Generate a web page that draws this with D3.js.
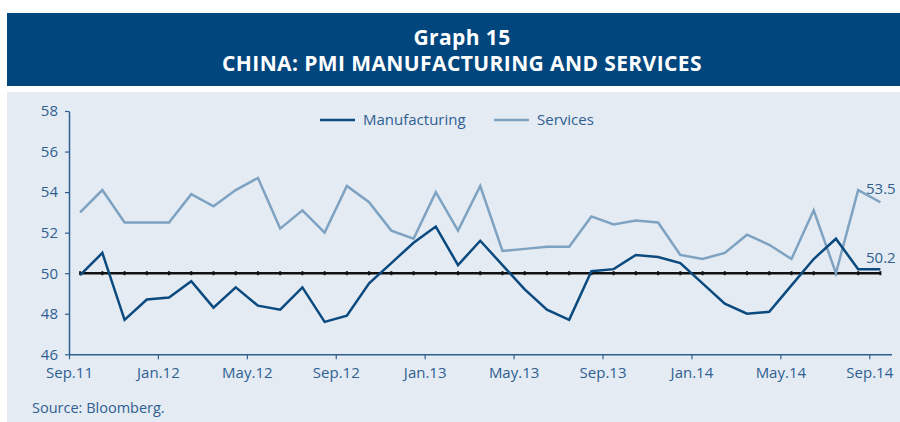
<!DOCTYPE html>
<html>
<head>
<meta charset="utf-8">
<script src="https://cdn.jsdelivr.net/npm/d3@7"></script>
<style>
  html, body { margin: 0; padding: 0; background: #ffffff; }
  svg { display: block; }
  text { font-family: "Open Sans", "DejaVu Sans", sans-serif; }
</style>
</head>
<body>
<svg id="chart" width="900" height="422"></svg>
<script>
// ---- Data ----
const months = [
  "Sep.11","Oct.11","Nov.11","Dec.11","Jan.12","Feb.12","Mar.12","Apr.12","May.12","Jun.12","Jul.12","Aug.12",
  "Sep.12","Oct.12","Nov.12","Dec.12","Jan.13","Feb.13","Mar.13","Apr.13","May.13","Jun.13","Jul.13","Aug.13",
  "Sep.13","Oct.13","Nov.13","Dec.13","Jan.14","Feb.14","Mar.14","Apr.14","May.14","Jun.14","Jul.14","Aug.14","Sep.14"
];
const manufacturing = [
  49.9, 51.0, 47.7, 48.7, 48.8, 49.6, 48.3, 49.3, 48.4, 48.2, 49.3, 47.6,
  47.9, 49.5, 50.5, 51.5, 52.3, 50.4, 51.6, 50.4, 49.2, 48.2, 47.7, 50.1,
  50.2, 50.9, 50.8, 50.5, 49.5, 48.5, 48.0, 48.1, 49.4, 50.7, 51.7, 50.2, 50.2
];
const services = [
  53.0, 54.1, 52.5, 52.5, 52.5, 53.9, 53.3, 54.1, 54.7, 52.2, 53.1, 52.0,
  54.3, 53.5, 52.1, 51.7, 54.0, 52.1, 54.3, 51.1, 51.2, 51.3, 51.3, 52.8,
  52.4, 52.6, 52.5, 50.9, 50.7, 51.0, 51.9, 51.4, 50.7, 53.1, 50.0, 54.1, 53.5
];
const threshold = 50;
const yTicks = [46, 48, 50, 52, 54, 56, 58];
const xTickLabels = ["Sep.11","Jan.12","May.12","Sep.12","Jan.13","May.13","Sep.13","Jan.14","May.14","Sep.14"];
const seriesNames = ["Manufacturing", "Services"];
const titleLines = ["Graph 15", "CHINA: PMI MANUFACTURING AND SERVICES"];
const sourceText = "Source: Bloomberg.";

// ---- Styles ----
const C = {
  banner: "#02467e",
  panel: "#e4ebf3",
  manuf: "#0b4a7f",
  serv: "#7ea2c2",
  axis: "#2f5f91",
  text: "#2f5f91"
};

const svg = d3.select("#chart");

// Banner
svg.append("rect").attr("x", 7).attr("y", 13).attr("width", 893).attr("height", 73).attr("fill", C.banner);
svg.append("text").attr("x", 462).attr("y", 45).attr("text-anchor", "middle")
  .attr("fill", "#fff").attr("font-weight", 700).attr("font-size", 21)
  .attr("letter-spacing", 0.4).text(titleLines[0]);
svg.append("text").attr("x", 462).attr("y", 71).attr("text-anchor", "middle")
  .attr("fill", "#fff").attr("font-weight", 700).attr("font-size", 21)
  .attr("letter-spacing", 0.4).text(titleLines[1]);

// Panel
svg.append("rect").attr("x", 7).attr("y", 92).attr("width", 893).attr("height", 330).attr("fill", C.panel);

// Scales
const x = d3.scaleLinear().domain([0, months.length]).range([69, 891.5]);
const y = d3.scaleLinear().domain([46, 58]).range([354.3, 111]);
const px = i => x(i + 0.5);

// Y axis
const yAxis = svg.append("g").attr("transform", "translate(69,0)")
  .call(d3.axisLeft(y).tickValues(yTicks).tickSize(4).tickSizeOuter(0).tickPadding(7).tickFormat(d3.format("d")));
yAxis.select(".domain").attr("stroke", C.axis).attr("stroke-width", 1.5);
yAxis.selectAll(".tick line").attr("stroke", C.axis).attr("stroke-width", 1.2);
yAxis.selectAll(".tick text").attr("fill", C.text).attr("font-size", 15)
  .attr("font-family", "'Open Sans', sans-serif");

// X axis
const tickIdx = xTickLabels.map(l => months.indexOf(l));
const xAxis = svg.append("g").attr("transform", "translate(0,354.3)")
  .call(d3.axisBottom(x).tickValues(tickIdx).tickSize(5).tickSizeOuter(0).tickPadding(8)
    .tickFormat(i => months[i]));
xAxis.select(".domain").attr("stroke", C.axis).attr("stroke-width", 1.5);
xAxis.selectAll(".tick line").attr("stroke", C.axis).attr("stroke-width", 1.2);
xAxis.selectAll(".tick text").attr("fill", C.text).attr("font-size", 15)
  .attr("font-family", "'Open Sans', sans-serif");

// Threshold line with markers
const thrData = months.map((m, i) => ({ i, v: threshold }));
svg.append("path").datum(thrData)
  .attr("fill", "none").attr("stroke", "#111").attr("stroke-width", 2.5)
  .attr("d", d3.line().x(d => px(d.i)).y(d => y(d.v)));
svg.append("g").selectAll("rect").data(thrData).join("rect")
  .attr("x", d => px(d.i) - 1).attr("y", d => y(d.v) - 2)
  .attr("width", 2).attr("height", 4).attr("fill", "#111");

// Series lines
const line = d3.line().x((d, i) => px(i)).y(d => y(d));
svg.append("path").datum(services).attr("fill", "none").attr("stroke", C.serv)
  .attr("stroke-width", 2.5).attr("stroke-linejoin", "miter").attr("d", line);
svg.append("path").datum(manufacturing).attr("fill", "none").attr("stroke", C.manuf)
  .attr("stroke-width", 2.5).attr("stroke-linejoin", "miter").attr("d", line);

// End labels
const last = months.length - 1;
svg.append("text").attr("x", 866).attr("y", y(services[last]) - 8)
  .attr("fill", C.text).attr("font-size", 15).text(d3.format(".1f")(services[last]));
svg.append("text").attr("x", 866).attr("y", y(manufacturing[last]) - 6)
  .attr("fill", C.text).attr("font-size", 15).text(d3.format(".1f")(manufacturing[last]));

// Legend
const legend = [
  { name: seriesNames[0], color: C.manuf, x: 320 },
  { name: seriesNames[1], color: C.serv, x: 494 }
];
const lg = svg.append("g").selectAll("g").data(legend).join("g")
  .attr("transform", d => `translate(${d.x},120)`);
lg.append("line").attr("x1", 0).attr("x2", 35).attr("y1", 0).attr("y2", 0)
  .attr("stroke", d => d.color).attr("stroke-width", 2.5);
lg.append("text").attr("x", 43).attr("y", 5).attr("fill", C.text).attr("font-size", 15).text(d => d.name);

// Source
svg.append("text").attr("x", 32).attr("y", 413).attr("fill", C.text).attr("font-size", 14.5).text(sourceText);
</script>
</body>
</html>
